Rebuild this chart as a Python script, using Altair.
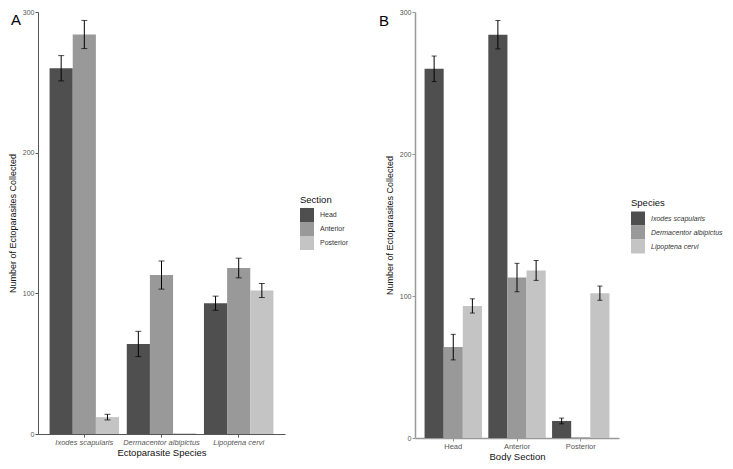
import altair as alt
import pandas as pd

species = ["Ixodes scapularis", "Dermacentor albipictus", "Lipoptena cervi"]
sections = ["Head", "Anterior", "Posterior"]

# mean counts per species, ordered Head, Anterior, Posterior
ixodes_mean = [260, 284, 12]
derma_mean = [64, 113, 0.5]
lipo_mean = [93, 118, 102]
# standard errors
ixodes_se = [9, 10, 2]
derma_se = [9, 10, 0]
lipo_se = [5, 7, 5]

y_ticks = [0, 100, 200, 300]
greys = ["#4f4f4f", "#999999", "#c4c4c4"]

rows = []
for sp, ms, ss in zip(species, [ixodes_mean, derma_mean, lipo_mean],
                      [ixodes_se, derma_se, lipo_se]):
    for sec, m, s in zip(sections, ms, ss):
        rows.append({"Species": sp, "Section": sec, "mean": m, "se": s,
                     "lo": m - s, "hi": m + s})
df = pd.DataFrame(rows)

FONT = "Liberation Sans"


def panel(xfield, cfield, xdom, cdom, width, height, xtitle, ltitle,
          italic_x, italic_leg, legx, legy, tag, tagx, tagy, dom_color, dom_w, cap):
    xenc = alt.X(f"{xfield}:N", sort=xdom,
                 scale=alt.Scale(domain=xdom, paddingInner=0.1, paddingOuter=0.15),
                 axis=alt.Axis(title=xtitle, labelAngle=0, labelFontSize=7.5,
                               labelColor="#555555", labelFont=FONT,
                               labelFontStyle="italic" if italic_x else "normal",
                               tickSize=3, tickColor=dom_color, domainColor=dom_color,
                               domainWidth=dom_w, labelPadding=1, titleFont=FONT,
                               titleFontSize=9.5, titleFontWeight="normal",
                               titleColor="#111111", titlePadding=2))
    xoff = alt.XOffset(f"{cfield}:N", sort=cdom,
                       scale=alt.Scale(domain=cdom, paddingInner=0, paddingOuter=0))
    yscale = alt.Scale(domain=[0, 300], nice=False, zero=True)
    yaxis = alt.Axis(title="Number of Ectoparasites Collected", values=y_ticks,
                     grid=False, labelFontSize=7, labelColor="#555555",
                     labelFont=FONT, tickSize=3, tickColor=dom_color,
                     domainColor=dom_color, domainWidth=dom_w, labelPadding=1,
                     titleFont=FONT, titleFontSize=9, titleFontWeight="normal",
                     titleColor="#111111", titlePadding=4.5)
    base = alt.Chart(df)
    bars = base.mark_bar().encode(
        x=xenc, xOffset=xoff,
        y=alt.Y("mean:Q", scale=yscale, axis=yaxis),
        color=alt.Color(f"{cfield}:N", sort=cdom,
                        scale=alt.Scale(domain=cdom, range=greys),
                        legend=alt.Legend(title=ltitle, orient="none",
                                          legendX=legx, legendY=legy,
                                          symbolType="square", symbolSize=196,
                                          symbolStrokeWidth=0, rowPadding=0,
                                          labelOffset=6, labelFontSize=7,
                                          labelFont=FONT, labelColor="#333333",
                                          labelFontStyle="italic" if italic_leg else "normal",
                                          titleFont=FONT, titleFontSize=9.5,
                                          titleFontWeight="normal", titleColor="#111111",
                                          titlePadding=4, padding=0, labelLimit=200)),
    )
    err = base.transform_filter("datum.se > 0")
    rules = err.mark_rule(color="black", strokeWidth=1).encode(
        x=alt.X(f"{xfield}:N", sort=xdom), xOffset=alt.XOffset(f"{cfield}:N", sort=cdom),
        y="lo:Q", y2="hi:Q")
    cap_lo = err.mark_tick(color="black", size=cap, thickness=1).encode(
        x=alt.X(f"{xfield}:N", sort=xdom), xOffset=alt.XOffset(f"{cfield}:N", sort=cdom),
        y="lo:Q")
    cap_hi = err.mark_tick(color="black", size=cap, thickness=1).encode(
        x=alt.X(f"{xfield}:N", sort=xdom), xOffset=alt.XOffset(f"{cfield}:N", sort=cdom),
        y="hi:Q")
    label = alt.Chart(pd.DataFrame({"t": [tag]})).mark_text(
        font=FONT, fontSize=15, align="left", baseline="middle", color="black"
    ).encode(text="t:N", x=alt.value(tagx), y=alt.value(tagy))
    return alt.layer(bars, rules, cap_lo, cap_hi, label).properties(
        width=width, height=height)


panel_a = panel("Species", "Section", species, sections, 247, 422,
                "Ectoparasite Species", "Section", True, False,
                262, 182.5, "A", -27, 8, "#555555", 1, 6)
panel_b = panel("Section", "Species", sections, species, 204, 426,
                "Body Section", "Species", False, True,
                216, 186, "B", -36, 9, "#999999", 1.5, 5)

chart = alt.hconcat(panel_a, panel_b, spacing=130, bounds="flush").resolve_scale(
    color="independent", x="independent", y="independent", xOffset="independent"
).resolve_legend(color="independent").properties(
    padding={"left": 0, "top": 0, "right": 0, "bottom": 0}
).configure_view(stroke=None)

chart.save("out.html", embed_options={"renderer": "svg", "actions": False})
